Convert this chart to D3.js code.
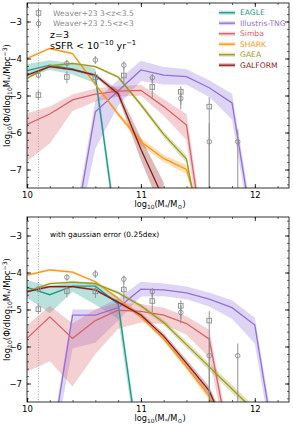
<!DOCTYPE html>
<html>
<head>
<meta charset="utf-8">
<script src="https://cdn.jsdelivr.net/npm/d3@7"></script>
<style>
  body { margin: 0; background: #fff; }
  text { font-family: "DejaVu Sans", sans-serif; }
</style>
</head>
<body>
<div id="wrapper"></div>
<script>
// mass bins shared by all model curves
const massBins = [10.0, 10.2, 10.4, 10.6, 10.8, 11.0, 11.2, 11.4, 11.6, 11.8, 12.0, 12.2]
const massTicks = [10, 11, 12]
const phiTicks = [-3, -4, -5, -6, -7]

// observations (Weaver+23)
const weaverMass = [10.1, 10.35, 10.6, 10.85, 11.1, 11.35, 11.6, 11.85]
const weaverHiZPhi = [-4.99, -4.5, -4.51, -4.46, -4.77, -4.9, -5.3, null]
const weaverHiZUp = [0.13, 0.15, 0.15, 0.2, 0.25, 0.15, 0.25, null]
const weaverHiZDn = [0.13, 0.17, 0.18, 0.3, 0.3, 0.35, 3, null]
const weaverLoZPhi = [-4.45, -4.13, -4.04, -4.18, -4.52, -5.08, -6.25, -6.25]
const weaverLoZUp = [0.08, 0.09, 0.11, 0.1, 0.1, 0.2, 0.5, 0.33]
const weaverLoZDn = [0.08, 0.09, 0.11, 0.12, 0.15, 0.3, 2, 2]

// top panel models
const eagleTopPhi = [-4.33, -4.18, -4.28, -4.47, -9.0, null, null, null, null, null, null, null]
const eagleTopErr = [0.18, 0.13, 0.15, 0.2, 0.3, null, null, null, null, null, null, null]
const tngTopPhi = [null, null, -9.0, -5.44, -4.88, -4.31, -4.45, -4.49, -4.79, -5.2, -9.0, null]
const tngTopUp = [null, null, 0.3, 0.3, 0.3, 0.25, 0.22, 0.2, 0.2, 0.25, 0.3, null]
const tngTopDn = [null, null, 0.3, 1.0, 0.4, 0.3, 0.25, 0.22, 0.25, 0.45, 0.3, null]
const simbaTopPhi = [-5.78, -5.5, -5.12, -4.96, -4.88, -4.86, -5.3, -5.8, -10, null, null, null]
const simbaTopUp = [0.3, 0.2, 0.15, 0.15, 0.13, 0.15, 0.2, 0.3, 0.3, null, null, null]
const simbaTopDn = [1.0, 0.8, 0.3, 0.2, 0.15, 0.15, 0.25, 0.4, 0.5, null, null, null]
const sharkTopPhi = [-4.0, -3.73, -3.87, -4.7, -5.5, -6.25, -6.7, -7.0, -9.0, null, null, null]
const sharkTopErr = [0.03, 0.03, 0.03, 0.04, 0.06, 0.1, 0.1, 0.12, 0.2, null, null, null]
const gaeaTopPhi = [-4.54, -4.2, -4.13, -4.22, -4.5, -5.25, -6.05, -6.72, -10, null, null, null]
const gaeaTopErr = [0.03, 0.03, 0.03, 0.03, 0.04, 0.06, 0.08, 0.1, 0.2, null, null, null]
const galformTopPhi = [-4.45, -4.22, -4.3, -4.45, -4.95, -6.45, -7.8, null, null, null, null, null]
const galformTopErr = [0.03, 0.03, 0.03, 0.04, 0.1, 0.3, 0.45, null, null, null, null, null]

// bottom panel models (with gaussian error)
const eagleBotPhi = [-4.4, -4.6, -4.37, -4.37, -4.85, -9.2, null, null, null, null, null, null]
const eagleBotUp = [0.2, 0.22, 0.12, 0.1, 0.2, 0.3, null, null, null, null, null, null]
const eagleBotDn = [0.28, 0.5, 0.15, 0.5, 0.4, 0.3, null, null, null, null, null, null]
const tngBotPhi = [null, -9.0, -5.15, -5.15, -4.95, -4.45, -4.47, -4.55, -4.72, -4.95, -5.42, -9.2]
const tngBotUp = [null, 0.3, 0.15, 0.15, 0.25, 0.2, 0.17, 0.17, 0.17, 0.2, 0.2, 0.3]
const tngBotDn = [null, 0.3, 0.9, 0.75, 0.35, 0.2, 0.17, 0.17, 0.2, 0.3, 0.5, 0.3]
const simbaBotPhi = [-5.78, -5.2, -5.78, -5.3, -5.02, -5.05, -5.15, -5.38, -5.8, -9.0, null, null]
const simbaBotUp = [0.35, 0.3, 0.4, 0.3, 0.2, 0.2, 0.2, 0.2, 0.25, 0.3, null, null]
const simbaBotDn = [0.9, 1.2, 1.3, 0.9, 0.5, 0.3, 0.25, 0.3, 0.5, 0.3, null, null]
const sharkBotPhi = [-4.07, -3.93, -3.99, -4.25, -4.7, -5.2, -5.8, -6.55, -7.35, -8.6, null, null]
const sharkBotErr = [0.03, 0.03, 0.03, 0.03, 0.04, 0.05, 0.06, 0.08, 0.1, 0.15, null, null]
const gaeaBotPhi = [-4.52, -4.3, -4.26, -4.3, -4.55, -4.9, -5.35, -5.95, -6.55, -7.15, -7.75, null]
const gaeaBotErr = [0.03, 0.03, 0.03, 0.03, 0.04, 0.05, 0.07, 0.09, 0.1, 0.11, 0.12, null]
const galformBotPhi = [-4.52, -4.38, -4.38, -4.47, -4.8, -5.15, -5.72, -6.45, -7.2, -8.6, null, null]
const galformBotErr = [0.03, 0.03, 0.03, 0.03, 0.04, 0.06, 0.08, 0.1, 0.12, 0.15, null, null]

const modelNames = ["EAGLE", "Illustris-TNG", "Simba", "SHARK", "GAEA", "GALFORM"]
const modelColors = ["#1b9a8c", "#9370db", "#d9626a", "#ff9410", "#9a9a1e", "#8b1a1a"]

const massLimit = 10.1

function drawChart() {
  const dims = { width: 293, height: 424, left: 27, right: 289 }

  const svg = d3.select("#wrapper").append("svg")
      .attr("width", dims.width)
      .attr("height", dims.height)

  const xScale = d3.scaleLinear().domain([10, 12.3]).range([dims.left, dims.right])

  const sub = (sel, parts, size) => {
    // mathtext-ish: [text, "sub"|"sup"|null]
    let shift = 0
    parts.forEach(([t, k]) => {
      const target = k === "sub" ? size * 0.22 : k === "sup" ? -size * 0.38 : 0
      sel.append("tspan")
          .attr("dy", target - shift)
          .attr("font-size", k ? size * 0.72 : size)
          .text(t)
      shift = target
    })
  }

  function panel(top, bottom, models, note) {
    const yScale = d3.scaleLinear().domain([-7.5, -2.5]).range([bottom, top])
    const g = svg.append("g")
    const clipId = "clip" + top
    g.append("clipPath").attr("id", clipId)
      .append("rect")
        .attr("x", dims.left).attr("y", top)
        .attr("width", dims.right - dims.left).attr("height", bottom - top)

    const plot = g.append("g").attr("clip-path", `url(#${clipId})`)

    // bands then lines for each model
    models.forEach((m, i) => {
      const pts = massBins.map((x, j) => ({ x, y: m.phi[j], up: m.up[j], dn: m.dn[j] }))
        .filter(d => d.y != null)
      const area = d3.area()
          .x(d => xScale(d.x))
          .y0(d => yScale(d.y - d.dn))
          .y1(d => yScale(d.y + d.up))
      plot.append("path")
          .attr("d", area(pts))
          .attr("fill", modelColors[i])
          .attr("fill-opacity", 0.3)
    })
    models.forEach((m, i) => {
      const pts = massBins.map((x, j) => ({ x, y: m.phi[j] })).filter(d => d.y != null)
      const line = d3.line().x(d => xScale(d.x)).y(d => yScale(d.y))
      plot.append("path")
          .attr("d", line(pts))
          .attr("fill", "none")
          .attr("stroke", modelColors[i])
          .attr("stroke-width", 1.3)
    })

    // mass completeness limit
    plot.append("line")
        .attr("x1", xScale(massLimit)).attr("x2", xScale(massLimit))
        .attr("y1", top).attr("y2", bottom)
        .attr("stroke", "#999")
        .attr("stroke-width", 0.9)
        .attr("stroke-dasharray", "1,1.6")

    // observations
    const obs = [
      { phi: weaverHiZPhi, up: weaverHiZUp, dn: weaverHiZDn, shape: "square" },
      { phi: weaverLoZPhi, up: weaverLoZUp, dn: weaverLoZDn, shape: "circle" },
    ]
    obs.forEach(o => {
      const pts = weaverMass.map((x, j) => ({ x, y: o.phi[j], up: o.up[j], dn: o.dn[j] }))
        .filter(d => d.y != null)
      plot.selectAll(null).data(pts).enter().append("line")
          .attr("x1", d => xScale(d.x)).attr("x2", d => xScale(d.x))
          .attr("y1", d => yScale(d.y + d.up)).attr("y2", d => yScale(d.y - d.dn))
          .attr("stroke", "#8c8c8c").attr("stroke-width", 1.1).attr("stroke-opacity", 0.85)
      drawMarkers(plot, pts.map(d => [xScale(d.x), yScale(d.y)]), o.shape)
    })

    // axes, ticks inward on all sides
    const minorX = d3.range(10, 12.31, 0.2)
    const minorY = d3.range(-7.4, -2.5, 0.2)
    const axes = [
      [d3.axisBottom(xScale), bottom, "x", massTicks, minorX, true],
      [d3.axisTop(xScale), top, "x", massTicks, minorX, false],
      [d3.axisLeft(yScale), dims.left, "y", phiTicks, minorY, true],
      [d3.axisRight(yScale), dims.right, "y", phiTicks, minorY, false],
    ]
    axes.forEach(([gen, pos, dir, major, minor, labels]) => {
      const tr = dir === "x" ? `translate(0,${pos})` : `translate(${pos},0)`
      const a = g.append("g").attr("transform", tr)
        .call(gen.tickValues(minor).tickSizeInner(-2).tickSizeOuter(0).tickFormat(""))
      a.select(".domain").remove()
      a.selectAll("line").attr("stroke-width", 0.6)
      const b = g.append("g").attr("transform", tr)
        .call(gen.tickValues(major).tickSizeInner(-4).tickSizeOuter(0)
          .tickPadding(dir === "x" ? 3.5 : 5).tickFormat(labels ? d3.format("d") : ""))
      b.select(".domain").remove()
      b.selectAll("line").attr("stroke-width", 0.8)
      b.selectAll("text").attr("font-size", 8.5).attr("fill", "#000")
        .attr("font-family", "DejaVu Sans")
    })

    g.append("rect")
        .attr("x", dims.left).attr("y", top)
        .attr("width", dims.right - dims.left).attr("height", bottom - top)
        .attr("fill", "none").attr("stroke", "#000").attr("stroke-width", 0.8)

    // axis titles
    const xl = g.append("text")
        .attr("x", (dims.left + dims.right) / 2 + 2)
        .attr("y", bottom + 19)
        .attr("text-anchor", "middle")
    sub(xl, [["log", null], ["10", "sub"], ["(M", null], ["*", "sub"], ["/M", null], ["⊙", "sub"], [")", null]], 8.2)

    const yl = g.append("text")
        .attr("transform", `translate(10,${(top + bottom) / 2}) rotate(-90)`)
        .attr("text-anchor", "middle")
    sub(yl, [["log", null], ["10", "sub"], ["(Φ/dlog", null], ["10", "sub"], ["M", null], ["*", "sub"],
      ["/Mpc", null], ["−3", "sup"], [")", null]], 8.5)

    if (note) note(g, top)
  }

  function drawMarkers(sel, pts, shape) {
    if (shape === "square") {
      sel.selectAll(null).data(pts).enter().append("rect")
          .attr("x", d => d[0] - 2.3).attr("y", d => d[1] - 2.3)
          .attr("width", 4.6).attr("height", 4.6)
          .attr("fill", "none").attr("stroke", "#8c8c8c").attr("stroke-width", 0.9)
    } else {
      sel.selectAll(null).data(pts).enter().append("circle")
          .attr("cx", d => d[0]).attr("cy", d => d[1]).attr("r", 2.3)
          .attr("fill", "none").attr("stroke", "#8c8c8c").attr("stroke-width", 0.9)
    }
  }

  const topModels = [
    { phi: eagleTopPhi, up: eagleTopErr, dn: eagleTopErr },
    { phi: tngTopPhi, up: tngTopUp, dn: tngTopDn },
    { phi: simbaTopPhi, up: simbaTopUp, dn: simbaTopDn },
    { phi: sharkTopPhi, up: sharkTopErr, dn: sharkTopErr },
    { phi: gaeaTopPhi, up: gaeaTopErr, dn: gaeaTopErr },
    { phi: galformTopPhi, up: galformTopErr, dn: galformTopErr },
  ]
  const botModels = [
    { phi: eagleBotPhi, up: eagleBotUp, dn: eagleBotDn },
    { phi: tngBotPhi, up: tngBotUp, dn: tngBotDn },
    { phi: simbaBotPhi, up: simbaBotUp, dn: simbaBotDn },
    { phi: sharkBotPhi, up: sharkBotErr, dn: sharkBotErr },
    { phi: gaeaBotPhi, up: gaeaBotErr, dn: gaeaBotErr },
    { phi: galformBotPhi, up: galformBotErr, dn: galformBotErr },
  ]

  panel(3, 188, topModels, (g, top) => {
    // observation legend
    const obsLabels = ["Weaver+23 3<z<3.5", "Weaver+23 2.5<z<3"]
    obsLabels.forEach((t, i) => {
      const y = top + 10 + i * 10.6
      g.append("line").attr("x1", 38.5).attr("x2", 38.5).attr("y1", y - 4.5).attr("y2", y + 4.5)
        .attr("stroke", "#8c8c8c").attr("stroke-width", 1.1)
      drawMarkers(g, [[38.5, y]], i === 0 ? "square" : "circle")
      g.append("text").attr("x", 53).attr("y", y + 2.8)
        .attr("font-size", 7.6).attr("fill", "#8c8c8c").text(t)
    })
    g.append("text").attr("x", 50).attr("y", top + 34.5).attr("font-size", 9.5).text("z=3")
    const s = g.append("text").attr("x", 50).attr("y", top + 45.5)
    sub(s, [["sSFR < 10", null], ["−10", "sup"], [" yr", null], ["−1", "sup"]], 9.5)

    // model legend
    modelNames.forEach((name, i) => {
      const y = top + 9.7 + i * 10.5
      g.append("rect").attr("x", 219).attr("y", y - 2).attr("width", 16).attr("height", 4)
        .attr("fill", modelColors[i]).attr("fill-opacity", 0.3)
      g.append("line").attr("x1", 219).attr("x2", 235).attr("y1", y).attr("y2", y)
        .attr("stroke", modelColors[i]).attr("stroke-width", 1.3)
      g.append("text").attr("x", 240).attr("y", y + 2.7)
        .attr("font-size", 7.6).attr("fill", modelColors[i]).text(name)
    })
  })

  panel(217, 402, botModels, (g, top) => {
    g.append("text").attr("x", 50).attr("y", top + 20)
      .attr("font-size", 7.4).text("with gaussian error (0.25dex)")
  })
}
drawChart()
</script>
</body>
</html>
